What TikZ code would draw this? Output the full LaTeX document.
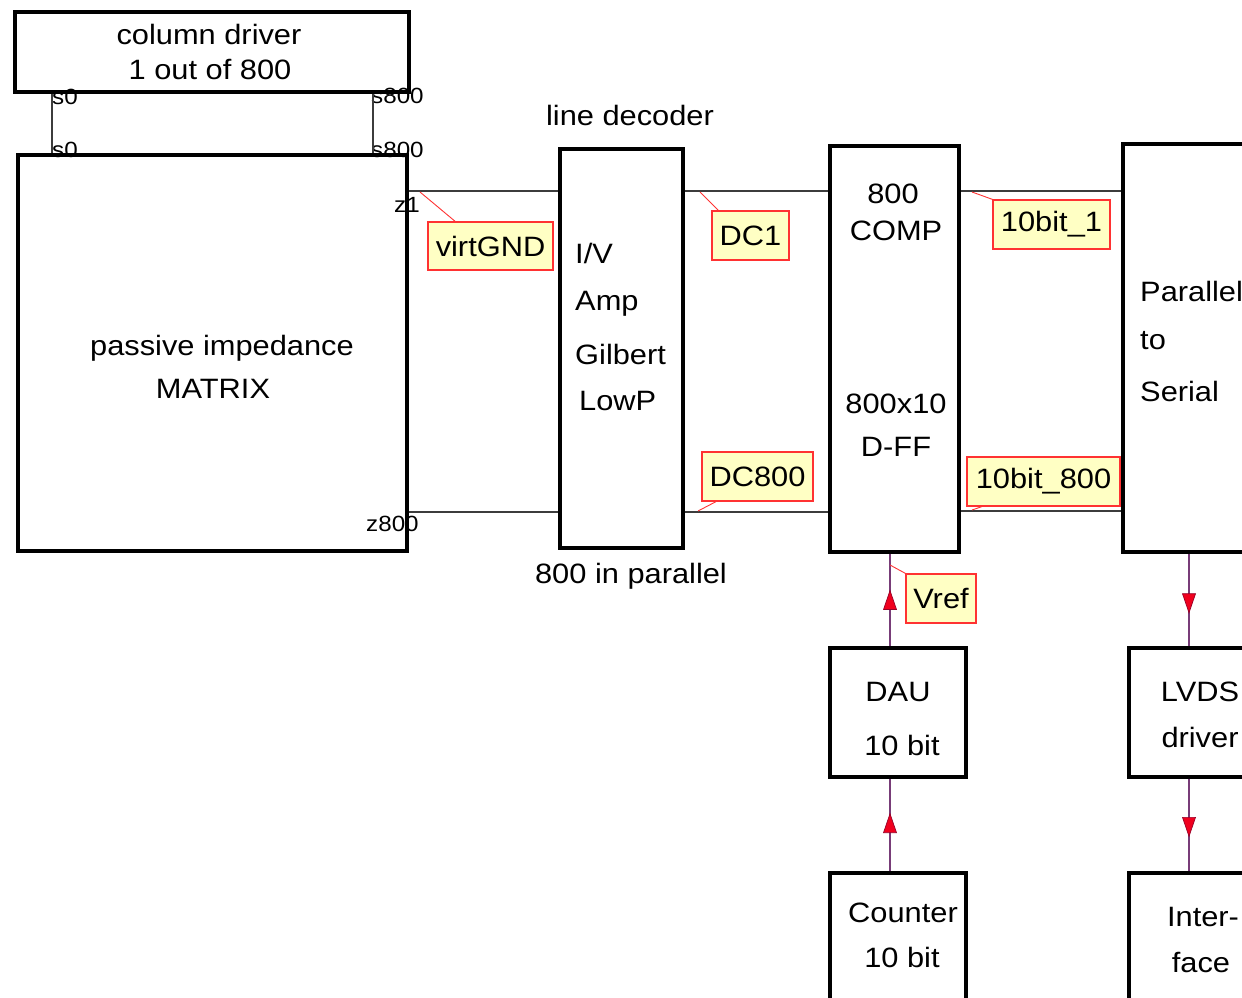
\documentclass[tikz,border=0pt]{standalone}
\usepackage{fontspec}
\setmainfont{Liberation Sans}[FakeStretch=1.1]
\usetikzlibrary{calc,decorations.markings}
\definecolor{callfill}{RGB}{255,255,196}
\definecolor{callline}{RGB}{255,50,50}
\definecolor{wire}{RGB}{60,60,60}
\definecolor{vwire}{RGB}{120,60,120}
\definecolor{arrred}{RGB}{240,0,30}
\definecolor{arrdark}{RGB}{150,0,40}
\tikzset{
  blk/.style={draw=black,line width=3.6pt,anchor=north west,inner sep=0pt},
  txt/.style={font=\fontsize{28}{32}\selectfont,inner sep=0pt},
  small/.style={font=\fontsize{22}{24}\selectfont,inner sep=0pt},
  callout/.style={draw=callline,fill=callfill,line width=1.3pt,inner sep=0pt,font=\fontsize{28}{32}\selectfont},
  leader/.style={draw=callline,line width=0.9pt},
  hwire/.style={draw=wire,line width=1.2pt},
  vwireS/.style={draw=vwire,line width=1.2pt},
  arrmid/.style={postaction={decorate},decoration={markings,
     mark=at position #1 with {\filldraw[fill=arrred,draw=arrdark,line width=0.7pt,line join=miter] (0,0) -- (-19,6.5) -- (-19,-6.5) -- cycle;}}},
}
\begin{document}
\begin{tikzpicture}[x=1pt,y=-1pt]
\useasboundingbox (0,0) rectangle (1242,997);
\clip (0,0) rectangle (1242,997);
% blocks
\node[blk,minimum width=394pt,minimum height=80pt] (cd) at (13,10) {};
\node[blk,minimum width=389pt,minimum height=396pt] (mat) at (16,153) {};
\node[blk,minimum width=123pt,minimum height=399pt] (ld) at (558,147) {};
\node[blk,minimum width=129pt,minimum height=406pt] (comp) at (828,144) {};
\node[blk,minimum width=180pt,minimum height=408pt] (ps) at (1121,142) {};
\node[blk,minimum width=136pt,minimum height=129pt] (dau) at (828,646) {};
\node[blk,minimum width=136pt,minimum height=180pt] (cnt) at (828,871) {};
\node[blk,minimum width=180pt,minimum height=129pt] (lvds) at (1127,646) {};
\node[blk,minimum width=180pt,minimum height=180pt] (intf) at (1127,871) {};
% texts
\node[txt] (t1) at (209,34) {column driver};
\node[txt] (t2) at (210,70) {1 out of 800};
\node[txt] (t3) at (222,348) {passive impedance};
\node[txt] (t4) at (213,389) {MATRIX};
\node[txt] (t5) at (630,115) {line decoder};
\node[txt] (t6) at (631,576) {800 in parallel};
\node[txt,anchor=west] (t7) at (575,253) {I/V};
\node[txt,anchor=west] (t8) at (575,304) {Amp};
\node[txt,anchor=west] (t9) at (575,354) {Gilbert};
\node[txt,anchor=west] (t10) at (579,401) {LowP};
\node[txt] (t11) at (893,194) {800};
\node[txt] (t12) at (896,231) {COMP};
\node[txt] (t13) at (896,404) {800x10};
\node[txt] (t14) at (896,447) {D-FF};
\node[txt,anchor=west] (t15) at (1140,291) {Parallel};
\node[txt,anchor=west] (t16) at (1140,341) {to};
\node[txt,anchor=west] (t17) at (1140,391) {Serial};
\node[txt] (t18) at (898,692) {DAU};
\node[txt] (t19) at (902,745) {10 bit};
\node[txt] (t20) at (903,913) {Counter};
\node[txt] (t21) at (902,957) {10 bit};
\node[txt] (t22) at (1200,692) {LVDS};
\node[txt] (t23) at (1200,737) {driver};
\node[txt] (t24) at (1203,917) {Inter-};
\node[txt] (t25) at (1201,962) {face};
% pin labels
\node[small,anchor=west] (p1) at (52,97) {s0};
\node[small,anchor=west] (p2) at (371,96) {s800};
\node[small,anchor=west] (p3) at (52,150) {s0};
\node[small,anchor=west] (p4) at (371,150) {s800};
\node[small,anchor=west] (p5) at (394,205) {z1};
\node[small,anchor=west] (p6) at (366,524) {z800};
% column lines
\coordinate (sx0) at (52,0);
\coordinate (sx8) at (373,0);
\draw[hwire] (sx0 |- cd.south) -- (sx0 |- mat.north);
\draw[hwire] (sx8 |- cd.south) -- (sx8 |- mat.north);
% horizontal wires
\coordinate (wa) at (0,191);
\coordinate (wb) at (0,512);
\coordinate (wc) at (0,511);
\draw[hwire] (mat.east |- wa) -- (ld.west |- wa);
\draw[hwire] (mat.east |- wb) -- (ld.west |- wb);
\draw[hwire] (ld.east |- wa) -- (comp.west |- wa);
\draw[hwire] (ld.east |- wb) -- (comp.west |- wb);
\draw[hwire] (comp.east |- wa) -- (ps.west |- wa);
\draw[hwire] (comp.east |- wc) -- (ps.west |- wc);
% vertical wires with arrows
\coordinate (vl) at (890,0);
\coordinate (vr) at (1189,0);
\draw[vwireS,arrmid=0.6] (vl |- dau.north) -- (vl |- comp.south);
\draw[vwireS,arrmid=0.62] (vl |- cnt.north) -- (vl |- dau.south);
\draw[vwireS,arrmid=0.64] (vr |- ps.south) -- (vr |- lvds.north);
\draw[vwireS,arrmid=0.625] (vr |- lvds.south) -- (vr |- intf.north);
% callouts
\node[callout,minimum width=125pt,minimum height=48pt] (cv) at (490.5,246) {virtGND};
\node[callout,minimum width=77pt,minimum height=49pt] (cd1) at (750.5,235.5) {DC1};
\node[callout,minimum width=111pt,minimum height=49pt] (cd8) at (757.5,476.5) {DC800};
\node[callout,minimum width=117pt,minimum height=49pt] (cb1) at (1051.5,224.5) {10bit\_1};
\node[callout,minimum width=153pt,minimum height=49pt] (cb8) at (1043.5,481.5) {10bit\_800};
\node[callout,minimum width=70pt,minimum height=49pt] (cvr) at (941,598.5) {Vref};
\coordinate (la) at (420,192);
\coordinate (lb) at (700,192);
\coordinate (lc) at (698,511);
\coordinate (ld1) at (972,192);
\coordinate (le) at (972,510);
\coordinate (lf) at (890,565);
\draw[leader] (la) -- ($(cv.north west)!0.22!(cv.north east)$);
\draw[leader] (lb) -- ($(cd1.north west)!0.09!(cd1.north east)$);
\draw[leader] (lc) -- ($(cd8.south west)!0.13!(cd8.south east)$);
\draw[leader] (ld1) -- (cb1.north west);
\draw[leader] (le) -- ($(cb8.south west)!0.1!(cb8.south east)$);
\draw[leader] (lf) -- (cvr.north west);
\end{tikzpicture}
\end{document}
